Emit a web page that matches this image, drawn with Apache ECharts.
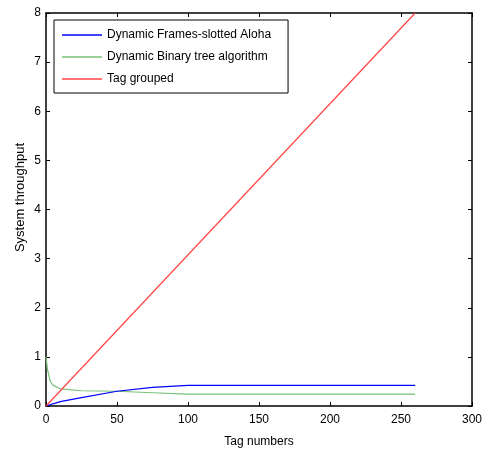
<!DOCTYPE html>
<html>
<head>
<meta charset="utf-8">
<script src="https://cdn.jsdelivr.net/npm/echarts@6/dist/echarts.min.js"></script>
<style>
  html, body { margin: 0; padding: 0; background: #fff; }
  #chart { width: 488px; height: 453px; }
</style>
</head>
<body>
<div id="chart"></div>
<script>
// Throughput vs. number of tags for three anti-collision schemes
const seriesNames = ['Dynamic Frames-slotted Aloha', 'Dynamic Binary tree algorithm', 'Tag grouped'];
const alohaPoints = [[0, 0], [10, 0.09], [25, 0.17], [50, 0.30], [75, 0.38], [100, 0.42], [260, 0.42]];
const binaryTreePoints = [[0, 1.0], [1, 0.75], [3, 0.5], [5, 0.42], [10, 0.35], [25, 0.31], [50, 0.30], [75, 0.27], [100, 0.24], [260, 0.24]];
const groupedPoints = [[0, 0], [260, 8]];
const xTicks = { min: 0, max: 300, step: 50 };
const yTicks = { min: 0, max: 8, step: 1 };
const xTitle = 'Tag numbers';
const yTitle = 'System throughput';

const font = 'Liberation Sans, Arial, sans-serif';
const axisLine = { show: true, onZero: false, lineStyle: { color: '#000', width: 1.5 } };
const tickIn = { show: true, inside: true, length: 4, lineStyle: { color: '#000', width: 1 } };
const labelStyle = { color: '#000', fontFamily: font, fontSize: 12 };

const chart = echarts.init(document.getElementById('chart'), null, { renderer: 'canvas' });
chart.setOption({
  animation: false,
  backgroundColor: '#fff',
  grid: { left: 46, right: 16, top: 13, bottom: 45, containLabel: false },
  legend: {
    orient: 'vertical',
    left: 54, top: 20,
    padding: [9, 17, 8, 8],
    itemGap: 10,
    itemWidth: 40,
    itemHeight: 1.5,
    icon: 'rect',
    borderColor: '#000',
    borderWidth: 1,
    backgroundColor: '#fff',
    textStyle: { color: '#000', fontFamily: font, fontSize: 12 },
    data: seriesNames
  },
  graphic: [
    {
      type: 'text', left: 14, top: 143, rotation: Math.PI / 2,
      style: { text: yTitle, fill: '#000', font: '13px ' + font }
    }
  ],
  xAxis: [
    {
      type: 'value', min: xTicks.min, max: xTicks.max, interval: xTicks.step,
      name: xTitle, nameLocation: 'middle', nameGap: 30,
      nameTextStyle: labelStyle,
      axisLine, axisTick: tickIn, axisLabel: Object.assign({ margin: 8 }, labelStyle),
      splitLine: { show: false }
    },
    {
      type: 'value', position: 'top', min: xTicks.min, max: xTicks.max, interval: xTicks.step,
      axisLine, axisTick: tickIn, axisLabel: { show: false }, splitLine: { show: false }
    }
  ],
  yAxis: [
    {
      type: 'value', min: yTicks.min, max: yTicks.max, interval: yTicks.step,
      axisLine, axisTick: tickIn, axisLabel: Object.assign({ margin: 5 }, labelStyle),
      splitLine: { show: false }
    },
    {
      type: 'value', position: 'right', min: yTicks.min, max: yTicks.max, interval: yTicks.step,
      axisLine, axisTick: tickIn, axisLabel: { show: false }, splitLine: { show: false }
    }
  ],
  series: [
    {
      name: seriesNames[0], type: 'line', data: alohaPoints, showSymbol: false,
      lineStyle: { color: '#0000ff', width: 1.2 }, itemStyle: { color: '#0000ff' }, z: 3
    },
    {
      name: seriesNames[1], type: 'line', data: binaryTreePoints, showSymbol: false,
      lineStyle: { color: '#77c277', width: 1.2 }, itemStyle: { color: '#77c277' }, z: 2
    },
    {
      name: seriesNames[2], type: 'line', data: groupedPoints, showSymbol: false,
      lineStyle: { color: '#ff4444', width: 1.2 }, itemStyle: { color: '#ff4444' }, z: 4
    }
  ]
});
</script>
</body>
</html>
